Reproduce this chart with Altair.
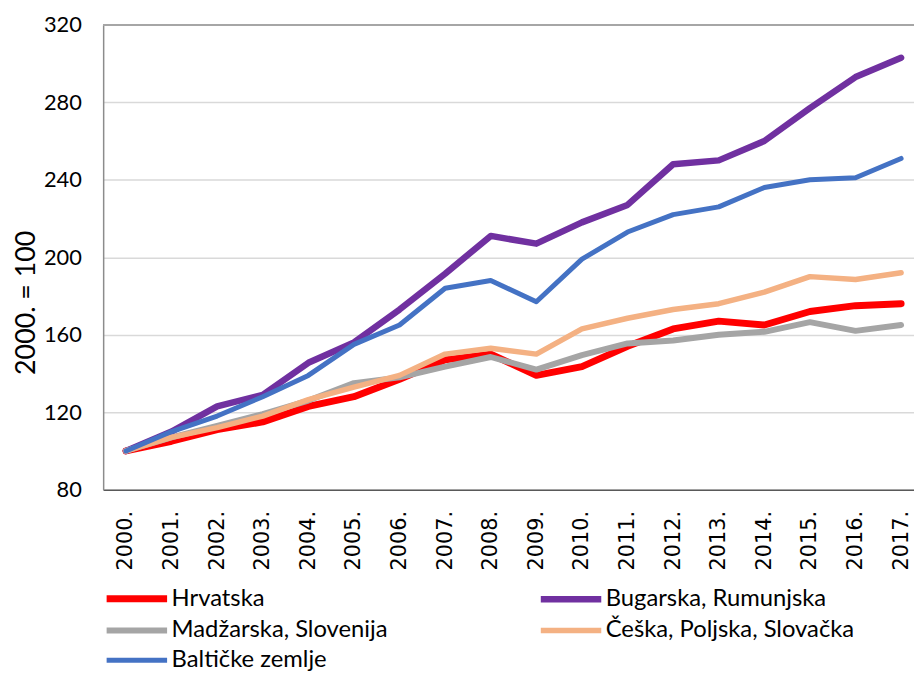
import altair as alt
import pandas as pd

years = list(range(2000, 2018))
series = ["Hrvatska", "Bugarska, Rumunjska", "Madžarska, Slovenija",
          "Češka, Poljska, Slovačka", "Baltičke zemlje"]
colors = ["#FF0000", "#7030A0", "#A5A5A5", "#F4B183", "#4472C4"]

hrvatska = [100, 105, 111, 115, 123, 128, 137, 147, 150, 139, 143.5, 154, 163, 167, 165, 172, 175, 176]
bugarska = [100, 110, 123, 129, 145.5, 156, 173, 191.5, 211, 207, 218, 227, 248, 250, 260, 277, 293, 303]
madzarska = [100, 107, 113, 119, 126, 135, 138, 143.5, 148.5, 142, 149.5, 155.5, 157, 160, 161.5, 166.5, 162, 165]
ceska = [100, 107, 112, 118, 126.5, 133, 139, 150, 153, 150, 163, 168.5, 173, 176, 182, 190, 188.5, 192]
balticke = [100, 110, 118, 128, 139, 155, 165, 184, 188, 177, 199, 213, 222, 226, 236, 240, 241, 251]

y_ticks = [80, 120, 160, 200, 240, 280, 320]

rows = []
for name, vals in zip(series, [hrvatska, bugarska, madzarska, ceska, balticke]):
    for yr, v in zip(years, vals):
        rows.append({"godina": yr, "indeks": v, "serija": name})
df = pd.DataFrame(rows)

W, H = 818, 469
STEP = 46
x_scale = alt.Scale(domain=[years[0] - 0.5, years[0] - 0.5 + W / STEP], nice=False, zero=False)
y_scale = alt.Scale(domain=[80, 320], nice=False, zero=False)

lines = alt.Chart(df).mark_line(strokeCap="round", strokeJoin="round").encode(
    x=alt.X("godina:Q", scale=x_scale,
            axis=alt.Axis(values=years, labelExpr="datum.value + '.'", labelAngle=270,
                          labelFont="DejaVu Sans", labelFontSize=21, labelColor="#000000",
                          labelPadding=21, grid=False, ticks=False, domainColor="#595959",
                          domainWidth=1.5, title=None, labelFlush=False, labelOverlap=False)),
    y=alt.Y("indeks:Q", scale=y_scale,
            axis=alt.Axis(values=y_ticks, labelFont="Lato", labelFontSize=22, labelColor="#000000",
                          labelPadding=22, grid=True, gridColor="#d9d9d9", gridWidth=1.5,
                          ticks=False, domainColor="#8c8c8c", domainWidth=1.5,
                          title="2000. = 100", titleFont="Lato", titleFontSize=27,
                          titleFontWeight="normal", titleColor="#000000", titleAngle=270,
                          titleX=-77, titleY=280, titleAlign="center", titleBaseline="middle",
                          labelFlush=False)),
    color=alt.Color("serija:N", scale=alt.Scale(domain=series, range=colors),
                    legend=alt.Legend(orient="none", legendX=3, legendY=567, columns=2,
                                      direction="horizontal",
                                      title=None, symbolType="M-2.3,0L9.9,0", symbolSize=100,
                                      symbolStrokeWidth=6, labelOffset=42, labelFont="Lato",
                                      labelFontSize=24, labelColor="#000000", labelLimit=500,
                                      rowPadding=6, columnPadding=140, padding=0)),
    strokeWidth=alt.StrokeWidth("serija:N", scale=alt.Scale(domain=series, range=[7, 5, 5, 5, 5]),
                                legend=None),
)

top_border = alt.Chart(df).mark_rule(color="#a6a6a6", strokeWidth=1.5).encode(
    y=alt.datum(320, scale=y_scale)
)

chart = alt.layer(top_border, lines).properties(
    width=W, height=H,
    autosize=alt.AutoSizeParams(type="none"),
    padding={"left": 96, "top": 14, "right": 0, "bottom": 665 - 14 - H},
).configure_view(stroke=None)

chart.save("out.html", embed_options={"renderer": "svg", "actions": False})
